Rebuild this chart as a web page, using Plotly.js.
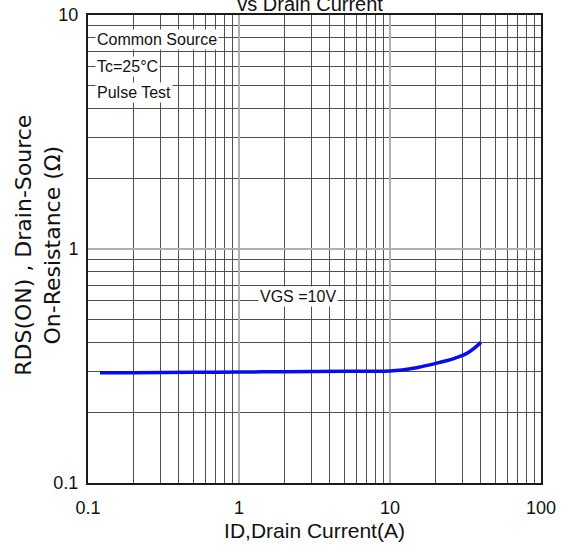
<!DOCTYPE html>
<html>
<head>
<meta charset="utf-8">
<script src="https://cdn.plot.ly/plotly-3.0.1.min.js"></script>
<style>html,body{margin:0;padding:0;background:#fff;}#chart{width:569px;height:547px;}</style>
</head>
<body>
<div id="chart"></div>
<script>
// Data
var drainCurrent = [0.12, 0.2, 0.5, 1, 2, 5, 8, 10, 12, 15, 18, 21, 24, 27, 30, 33, 36, 40];
var onResistance = [0.296, 0.296, 0.297, 0.298, 0.299, 0.300, 0.300, 0.301, 0.304, 0.311, 0.319, 0.327, 0.334, 0.342, 0.350, 0.361, 0.376, 0.399];
var xTickVals = [0.1, 1, 10, 100];
var xTickText = ["0.1", "1", "10", "100"];
var yTickVals = [0.1, 1, 10];
var yTickText = ["0.1", "1", "10"];
var xMinorVals = [0.2,0.3,0.4,0.5,0.6,0.7,0.8,0.9, 2,3,4,5,6,7,8,9, 20,30,40,50,60,70,80,90];
var yMinorVals = [0.2,0.3,0.4,0.5,0.6,0.7,0.8,0.9, 2,3,4,5,6,7,8,9];
var noteLines = ["Common Source", "Tc=25°C", "Pulse Test"];
var curveLabel = "VGS =10V";
var chartTitle = "vs Drain Current";
var xTitle = "ID,Drain Current(A)";
var yTitle = "RDS(ON) , Drain-Source<br>On-Resistance (Ω)";

var narrow = '"Liberation Sans Narrow", "Liberation Sans", Arial, sans-serif';

var trace = {
  x: drainCurrent, y: onResistance, type: 'scatter', mode: 'lines',
  line: {color: '#0a0af0', width: 3.5, shape: 'spline', smoothing: 0.6},
  hoverinfo: 'skip'
};

var notePos = [0.947, 0.891, 0.835];
var annotations = noteLines.map(function(t, i){
  return {text: t, xref: 'paper', yref: 'paper', x: 0.016, y: notePos[i],
    xanchor: 'left', yanchor: 'middle', showarrow: false, bgcolor: '#ffffff', borderpad: 1,
    font: {family: narrow, size: 16, color: '#111'}};
});
annotations.push({text: curveLabel, xref: 'paper', yref: 'paper', x: 0.4636, y: 0.399,
  xanchor: 'center', yanchor: 'middle', showarrow: false, bgcolor: '#ffffff', borderpad: 1,
  font: {family: narrow, size: 16, color: '#111'}});
annotations.push({text: yTitle, xref: 'paper', yref: 'paper', x: -0.1093, y: 0.508,
  xanchor: 'center', yanchor: 'middle', showarrow: false, textangle: -90,
  font: {family: 'DejaVu Sans, sans-serif', size: 22, color: '#111'}});

var axisCommon = {
  type: 'log', showline: true, mirror: true, linecolor: '#1a1a1a', linewidth: 2,
  ticks: '', showgrid: true, gridcolor: '#b0b0b0', gridwidth: 1.2, zeroline: false,
  tickfont: {family: narrow, size: 18, color: '#111'}
};

var layout = {
  width: 569, height: 547,
  margin: {l: 88, r: 28, t: 15, b: 64, pad: 0},
  paper_bgcolor: '#ffffff', plot_bgcolor: '#ffffff',
  showlegend: false,
  title: {text: chartTitle, x: 0.545, xanchor: 'center', yref: 'container', y: 0.98, yanchor: 'bottom',
    font: {family: narrow, size: 20, color: '#111'}},
  xaxis: Object.assign({}, axisCommon, {
    range: [-1, 2], tickmode: 'array', tickvals: xTickVals, ticktext: xTickText,
    ticklabelstandoff: 7,
    minor: {tickmode: 'array', tickvals: xMinorVals, showgrid: true, gridcolor: '#505050', gridwidth: 1, ticks: ''},
    title: {text: xTitle, standoff: 7, font: {family: narrow, size: 21, color: '#111'}}
  }),
  yaxis: Object.assign({}, axisCommon, {
    range: [-1, 1], tickmode: 'array', tickvals: yTickVals, ticktext: yTickText,
    ticklabelstandoff: 4,
    minor: {tickmode: 'array', tickvals: yMinorVals, showgrid: true, gridcolor: '#505050', gridwidth: 1, ticks: ''}
  }),
  annotations: annotations
};

Plotly.newPlot('chart', [trace], layout, {staticPlot: true, displayModeBar: false});
</script>
</body>
</html>
